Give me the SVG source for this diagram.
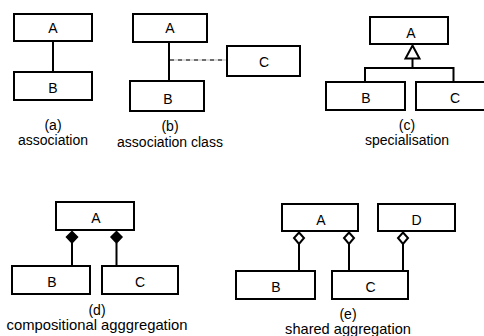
<svg xmlns="http://www.w3.org/2000/svg" width="484" height="336" viewBox="0 0 484 336">
<style>
.box{fill:#fff;stroke:#000;stroke-width:2}
.ln{fill:none;stroke:#000;stroke-width:2}
.lbl{font-family:"Liberation Sans",Arial,sans-serif;font-size:14px;text-anchor:middle;fill:#000}
.cap{font-family:"Liberation Sans",Arial,sans-serif;font-size:14px;text-anchor:middle;fill:#000}
.fd{fill:#000;stroke:#000;stroke-width:1.5}
.hd{fill:#fff;stroke:#000;stroke-width:2}
.tri{fill:#fff;stroke:#000;stroke-width:2}
</style>
<rect width="484" height="336" fill="#fff"/>
<g id="connectors">
  <line class="ln" x1="53" y1="42" x2="53" y2="71"/>
  <line class="ln" x1="169" y1="42" x2="169" y2="80"/>
  <line x1="170" y1="60" x2="226" y2="60" stroke="#bbb" stroke-width="1.2"/>
  <line x1="170" y1="60" x2="226" y2="60" stroke="#000" stroke-width="1.2" stroke-dasharray="4 4"/>
  <polyline class="ln" points="412.5,58.5 412.5,68"/>
  <polyline class="ln" points="365,81 365,68 453.5,68 453.5,81"/>
  <polygon class="tri" points="412.5,45.5 419.5,58.5 405.5,58.5"/>
  <line class="ln" x1="72" y1="243" x2="72" y2="265"/>
  <line class="ln" x1="116.5" y1="243" x2="116.5" y2="265"/>
  <polygon class="fd" points="72,231.5 77.5,237 72,243 66.5,237"/>
  <polygon class="fd" points="116.5,231.5 122,237 116.5,243 111,237"/>
  <line class="ln" x1="299" y1="244" x2="299" y2="270"/>
  <line class="ln" x1="349" y1="244" x2="349" y2="270"/>
  <line class="ln" x1="403" y1="244" x2="403" y2="270"/>
  <polygon class="hd" points="299,232.5 304,238 299,244 294,238"/>
  <polygon class="hd" points="349,232.5 354,238 349,244 344,238"/>
  <polygon class="hd" points="403,232.5 408,238 403,244 398,238"/>
</g>
<g id="a-A"><rect class="box" x="14" y="14" width="78" height="27"/><text class="lbl" x="53" y="33">A</text></g>
<g id="a-B"><rect class="box" x="14" y="72" width="78" height="28"/><text class="lbl" x="53" y="93">B</text></g>
<g id="a-cap"><text class="cap" x="53" y="130">(a)</text><text class="cap" x="53" y="145">association</text></g>

<g id="b-A"><rect class="box" x="133" y="14" width="74" height="28"/><text class="lbl" x="170" y="33">A</text></g>
<g id="b-B"><rect class="box" x="130" y="81" width="74" height="30"/><text class="lbl" x="168" y="103.5">B</text></g>
<g id="b-C"><rect class="box" x="227" y="46" width="73" height="30"/><text class="lbl" x="264" y="66.5">C</text></g>
<g id="b-cap"><text class="cap" x="170" y="131">(b)</text><text class="cap" x="170" y="147">association class</text></g>

<g id="c-A"><rect class="box" x="370" y="17" width="78" height="27"/><text class="lbl" x="411" y="38">A</text></g>
<g id="c-B"><rect class="box" x="326" y="82" width="79" height="28"/><text class="lbl" x="366" y="103">B</text></g>
<g id="c-C"><rect class="box" x="416" y="82" width="80" height="28"/><text class="lbl" x="455" y="103">C</text></g>
<g id="c-cap"><text class="cap" x="407" y="129.5">(c)</text><text class="cap" x="407" y="144.5">specialisation</text></g>

<g id="d-A"><rect class="box" x="56" y="202" width="78" height="28"/><text class="lbl" x="96" y="223">A</text></g>
<g id="d-B"><rect class="box" x="12" y="266" width="78" height="28"/><text class="lbl" x="52" y="287">B</text></g>
<g id="d-C"><rect class="box" x="102" y="266" width="76" height="28"/><text class="lbl" x="140" y="287">C</text></g>
<g id="d-cap"><text class="cap" x="97" y="315">(d)</text><text class="cap" x="97" y="330" style="font-size:14.8px">compositional agggregation</text></g>

<g id="e-A"><rect class="box" x="282" y="204" width="76" height="27"/><text class="lbl" x="321" y="225">A</text></g>
<g id="e-D"><rect class="box" x="378" y="204" width="77" height="27"/><text class="lbl" x="416.5" y="225">D</text></g>
<g id="e-B"><rect class="box" x="236" y="271" width="79" height="28"/><text class="lbl" x="276" y="292">B</text></g>
<g id="e-C"><rect class="box" x="332" y="271" width="76" height="28"/><text class="lbl" x="370.5" y="292">C</text></g>
<g id="e-cap"><text class="cap" x="348" y="319">(e)</text><text class="cap" x="348" y="334" style="font-size:14.6px">shared aggregation</text></g>
</svg>
